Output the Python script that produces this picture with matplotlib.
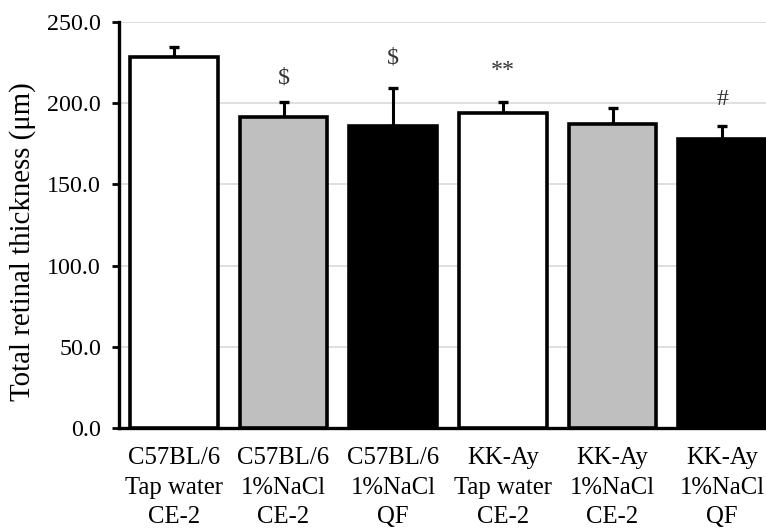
import numpy as np
import matplotlib as mpl
mpl.use("Agg")
import matplotlib.pyplot as plt

# data
groups = ["C57BL/6\nTap water\nCE-2", "C57BL/6\n1%NaCl\nCE-2", "C57BL/6\n1%NaCl\nQF",
          "KK-Ay\nTap water\nCE-2", "KK-Ay\n1%NaCl\nCE-2", "KK-Ay\n1%NaCl\nQF"]
means = [228.5, 191.5, 186.0, 193.8, 187.3, 178.0]
sds = [6.0, 9.2, 23.5, 7.0, 9.5, 8.2]
marks = ["", "$", "$", "**", "", "#"]
mark_offsets = [0, 10, 14, 15, 0, 11]
colors = ["white", "#bfbfbf", "black", "white", "#bfbfbf", "black"]

plt.rcParams["font.family"] = ["Liberation Serif", "DejaVu Serif"]
plt.rcParams["font.size"] = 17.3

fig = plt.figure(figsize=(7.66, 5.28), dpi=100)
# right part of the chart is cut off in the reference, so the axes run past the figure edge
ax = fig.add_axes([119 / 766, 100 / 528, 658 / 766, 406 / 528])

x = np.arange(len(groups))
ax.bar(x, means, width=0.8, color=colors, edgecolor="black", linewidth=2.6, zorder=3)
ax.errorbar(x, means, yerr=[np.zeros(len(sds)), sds], fmt="none", ecolor="black",
            elinewidth=2.2, capsize=3.5, capthick=2.4, zorder=2)

for xi, m, s, lab, off in zip(x, means, sds, marks, mark_offsets):
    if lab:
        ax.annotate(lab, (xi, m + s), xytext=(0, off), textcoords="offset points",
                    ha="center", va="bottom", fontsize=17.3, color="#333333")

ax.set_xlim(-0.5, len(groups) - 0.5)
ax.set_ylim(0, 250)
ax.set_yticks(np.arange(0, 251, 50))
ax.yaxis.set_major_formatter(mpl.ticker.FormatStrFormatter("%.1f"))
ax.set_xticks(x)
ax.set_xticklabels(groups, linespacing=1.42, fontsize=17.8)
ax.tick_params(axis="x", length=0, pad=14)
ax.tick_params(axis="y", length=5, width=2, direction="out", pad=8)

ax.grid(axis="y", color="#d9d9d9", linewidth=1.2, zorder=0)
ax.set_axisbelow(True)
for side in ["top", "right"]:
    ax.spines[side].set_visible(False)
ax.spines["left"].set_linewidth(2.4)
ax.spines["bottom"].set_linewidth(2.4)
ax.set_ylabel("Total retinal thickness (μm)", fontsize=20.8, va="center")
ax.yaxis.set_label_coords(-0.147, 0.46)

fig.savefig("out.png", dpi=100)
